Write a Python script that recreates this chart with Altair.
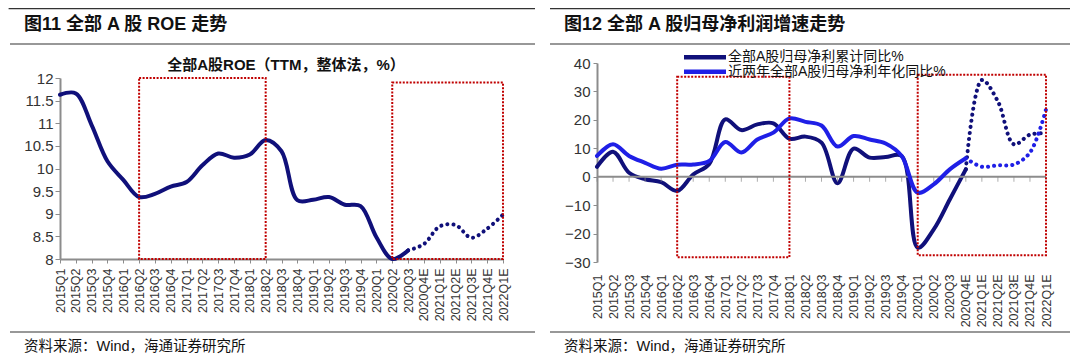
import altair as alt
import pandas as pd

# ---------------- data ----------------
quarters = ["2015Q1", "2015Q2", "2015Q3", "2015Q4", "2016Q1", "2016Q2", "2016Q3", "2016Q4",
            "2017Q1", "2017Q2", "2017Q3", "2017Q4", "2018Q1", "2018Q2", "2018Q3", "2018Q4",
            "2019Q1", "2019Q2", "2019Q3", "2019Q4", "2020Q1", "2020Q2", "2020Q3",
            "2020Q4E", "2021Q1E", "2021Q2E", "2021Q3E", "2021Q4E", "2022Q1E"]

# 图11: ROE (TTM) actual 2015Q1-2020Q3, forecast 2020Q3-2022Q1E
roe_actual = [11.63, 11.66, 10.96, 10.16, 9.75, 9.37, 9.44, 9.60, 9.70, 10.07, 10.33, 10.24,
              10.31, 10.63, 10.38, 9.30, 9.31, 9.37, 9.20, 9.17, 8.48, 8.00, 8.19]
roe_forecast = [8.19, 8.33, 8.72, 8.75, 8.47, 8.67, 8.98]

# 图12: net profit growth
series_names = ["全部A股归母净利累计同比%", "近两年全部A股归母净利年化同比%"]
cum_actual = [3.5, 8.8, 1.4, -0.9, -1.9, -5.0, 0.8, 4.5, 20.2, 16.4, 18.4, 18.8,
              13.4, 14.1, 12.0, -2.3, 9.9, 6.7, 6.9, 7.3, -25.0, -18.5, -8.0, 2.6]
cum_forecast = [2.6, 34.0, 26.5, 11.4, 14.8, 15.3]
two_year_actual = [7.3, 11.4, 7.3, 4.9, 2.8, 4.2, 4.3, 5.5, 12.2, 8.5, 13.1, 15.5,
                   20.5, 19.3, 18.0, 10.6, 14.3, 13.1, 11.7, 7.3, -5.6, -2.7, 2.6, 6.5]
two_year_forecast = [6.5, 3.5, 4.0, 4.3, 8.5, 23.7]

# highlighted periods (red dotted boxes)
roe_box_start = ["2016Q2", "2020Q2"]
roe_box_end = ["2018Q2", "2022Q1E"]
roe_box_low = [8.0, 8.0]
roe_box_high = [12.0, 11.9]
profit_box_start = ["2016Q2", "2020Q1"]
profit_box_end = ["2018Q1", "2022Q1E"]
profit_box_low = [-28.3, -27.6]
profit_box_high = [35.2, 35.9]

# ---------------- style ----------------
FONT = "Liberation Sans, Noto Sans CJK SC"
GRAY = "#8c8c8c"
TXT = "#333333"
NAVY = "#10107a"
BLUE = "#1f1fe6"
RED = "#c00000"
W1, H1 = 443, 196
W2, H2 = 449, 199

one = pd.DataFrame({"k": [0]})


def xscale():
    return alt.Scale(type="point", domain=quarters, padding=0)


def text_layer(txt, x, y, size, bold=False, align="left"):
    return alt.Chart(pd.DataFrame({"t": [txt]})).mark_text(
        font=FONT, fontSize=size, fontWeight="bold" if bold else "normal",
        align=align, baseline="middle", color="#111111"
    ).encode(x=alt.value(x), y=alt.value(y), text="t:N")


def hrule(x0, x1, y, color="#333333", width=1.2):
    return alt.Chart(one).mark_rule(color=color, strokeWidth=width).encode(
        x=alt.value(x0), x2=alt.value(x1), y=alt.value(y))


# ---------------- left panel ----------------
roe_df = pd.DataFrame({"q": quarters[:len(roe_actual)], "v": roe_actual})
roe_fc_df = pd.DataFrame({"q": quarters[len(quarters) - len(roe_forecast):], "v": roe_forecast})
roe_box_df = pd.DataFrame({"s": roe_box_start, "e": roe_box_end, "lo": roe_box_low, "hi": roe_box_high})

yL = alt.Scale(domain=[8, 12], range=[H1, 15], nice=False, zero=False)

left_line = alt.Chart(roe_df).mark_line(
    interpolate="catmull-rom", color=NAVY, strokeWidth=4, strokeCap="round", strokeJoin="round"
).encode(
    x=alt.X("q:O", scale=xscale(), sort=quarters, axis=alt.Axis(
        title=None, labelAngle=270, labelFont=FONT, labelFontSize=12.5, labelColor=TXT,
        tickColor=GRAY, tickSize=4, tickWidth=1, domainColor=GRAY, domainWidth=2,
        labelPadding=5, grid=False)),
    y=alt.Y("v:Q", scale=yL, axis=alt.Axis(
        title=None, values=[8, 8.5, 9, 9.5, 10, 10.5, 11, 11.5, 12], format=".3~g",
        labelFont=FONT, labelFontSize=15, labelColor=TXT, tickColor=GRAY, tickSize=5,
        domainColor=GRAY, domainWidth=2, labelPadding=2, grid=False)),
)
left_fc = alt.Chart(roe_fc_df).mark_line(
    interpolate="catmull-rom", color=NAVY, strokeWidth=4, strokeCap="round", strokeDash=[0.1, 6]
).encode(
    x=alt.X("q:O", scale=xscale(), sort=quarters, axis=None),
    y=alt.Y("v:Q", scale=yL, axis=None),
)
left_box = alt.Chart(roe_box_df).mark_rect(
    fillOpacity=0, stroke=RED, strokeWidth=2, strokeDash=[2, 1.5]
).encode(
    x=alt.X("s:O", scale=xscale(), axis=None), x2="e:O",
    y=alt.Y("lo:Q", scale=yL, axis=None), y2="hi:Q",
)

left = alt.layer(
    left_line, left_fc, left_box,
    hrule(-51.4, 475, -54.4), hrule(-50, 475, -19), hrule(-50, 475, 269),
    text_layer("图11 全部 A 股 ROE 走势", -36, -38, 18, bold=True),
    text_layer("全部A股ROE（TTM，整体法，%）", 226, 2, 15, bold=True, align="center"),
    text_layer("资料来源：Wind，海通证券研究所", -36, 284, 14.5),
).resolve_axis(x="independent", y="independent").properties(width=W1, height=H1)

# ---------------- right panel ----------------
cum_df = pd.DataFrame({"q": quarters[:len(cum_actual)], "v": cum_actual})
cum_fc_df = pd.DataFrame({"q": quarters[len(quarters) - len(cum_forecast):], "v": cum_forecast})
two_df = pd.DataFrame({"q": quarters[:len(two_year_actual)], "v": two_year_actual})
two_fc_df = pd.DataFrame({"q": quarters[len(quarters) - len(two_year_forecast):], "v": two_year_forecast})
profit_box_df = pd.DataFrame({"s": profit_box_start, "e": profit_box_end,
                              "lo": profit_box_low, "hi": profit_box_high})
zero_df = pd.DataFrame({"q": [quarters[0]], "q2": [quarters[-1]], "v": [0]})
tick_df = pd.DataFrame({"q": quarters, "v": [0] * len(quarters)})

yR = alt.Scale(domain=[-30, 40], nice=False, zero=False)

cum_line = alt.Chart(cum_df).mark_line(
    interpolate="catmull-rom", color=NAVY, strokeWidth=4, strokeCap="round", strokeJoin="round"
).encode(
    x=alt.X("q:O", scale=xscale(), sort=quarters, axis=alt.Axis(
        title=None, labelAngle=270, labelFont=FONT, labelFontSize=12.5, labelColor=TXT,
        ticks=False, tickSize=0, domain=False, labelPadding=12, grid=False)),
    y=alt.Y("v:Q", scale=yR, axis=alt.Axis(
        title=None, values=[-30, -20, -10, 0, 10, 20, 30, 40], labelFont=FONT,
        labelFontSize=15, labelColor=TXT, tickColor=GRAY, tickSize=4, domainColor=GRAY,
        domainWidth=2, labelPadding=3, grid=False)),
)
zero_line = alt.Chart(zero_df).mark_rule(color=GRAY, strokeWidth=2).encode(
    x=alt.X("q:O", scale=xscale(), axis=None), x2="q2:O",
    y=alt.Y("v:Q", scale=yR, axis=None),
)
zero_ticks = alt.Chart(tick_df).mark_tick(
    orient="vertical", color=GRAY, size=5, thickness=1, yOffset=2.5
).encode(
    x=alt.X("q:O", scale=xscale(), axis=None),
    y=alt.Y("v:Q", scale=yR, axis=None),
)
two_line = alt.Chart(two_df).mark_line(
    interpolate="catmull-rom", color=BLUE, strokeWidth=4, strokeCap="round", strokeJoin="round"
).encode(
    x=alt.X("q:O", scale=xscale(), sort=quarters, axis=None),
    y=alt.Y("v:Q", scale=yR, axis=None),
)
cum_fc = alt.Chart(cum_fc_df).mark_line(
    interpolate="catmull-rom", color=NAVY, strokeWidth=4, strokeCap="round", strokeDash=[0.1, 6]
).encode(
    x=alt.X("q:O", scale=xscale(), sort=quarters, axis=None),
    y=alt.Y("v:Q", scale=yR, axis=None),
)
two_fc = alt.Chart(two_fc_df).mark_line(
    interpolate="catmull-rom", color=BLUE, strokeWidth=4, strokeCap="round", strokeDash=[0.1, 6]
).encode(
    x=alt.X("q:O", scale=xscale(), sort=quarters, axis=None),
    y=alt.Y("v:Q", scale=yR, axis=None),
)
right_box = alt.Chart(profit_box_df).mark_rect(
    fillOpacity=0, stroke=RED, strokeWidth=2, strokeDash=[2, 1.5]
).encode(
    x=alt.X("s:O", scale=xscale(), axis=None), x2="e:O",
    y=alt.Y("lo:Q", scale=yR, axis=None), y2="hi:Q",
)

right = alt.layer(
    cum_line, zero_line, zero_ticks, two_line, cum_fc, two_fc, right_box,
    hrule(-47, 473, -54.4), hrule(-47, 473, -19), hrule(-47, 473, 269),
    hrule(87, 129, -5.7, color=NAVY, width=4.5), hrule(87, 129, 8.7, color=BLUE, width=4.5),
    text_layer(series_names[0], 131, -6, 14),
    text_layer(series_names[1], 131, 8.5, 14),
    text_layer("图12 全部 A 股归母净利润增速走势", -33, -38, 18, bold=True),
    text_layer("资料来源：Wind，海通证券研究所", -33, 284, 14.5),
).resolve_axis(x="independent", y="independent").properties(width=W2, height=H2)

chart = alt.hconcat(left, right, spacing=94, bounds="flush").properties(
    padding=0
).configure_view(strokeWidth=0)

chart.save("out.html", embed_options={"renderer": "svg", "actions": False})
